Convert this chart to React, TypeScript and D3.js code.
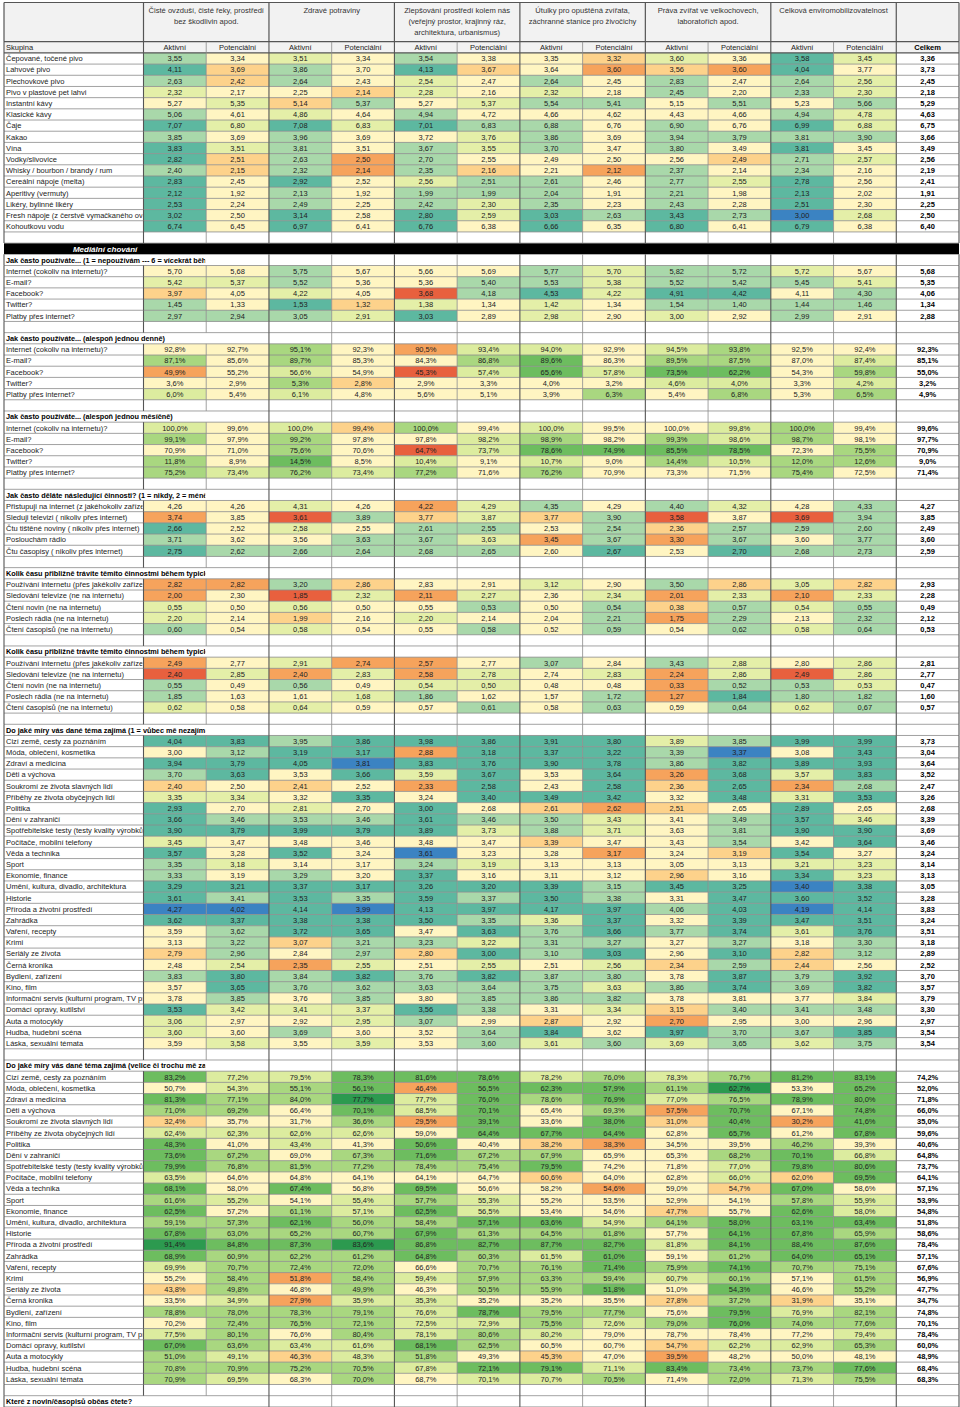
import React from "react";
import * as d3 from "d3";

// ---------- header texts ----------
const groupTitles: string[][] = [
  ["Čisté ovzduší, čisté řeky, prostředí", "bez škodlivin apod."],
  ["Zdravé potraviny"],
  ["Zlepšování prostředí kolem nás", "(veřejný prostor, krajinný ráz,", "architektura, urbanismus)"],
  ["Útulky pro opuštěná zvířata,", "záchranné stanice pro živočichy"],
  ["Práva zvířat ve velkochovech,", "laboratořích apod."],
  ["Celková enviromobilizovatelnost"],
];
const subColumns = ["Aktivní", "Potenciální"];
const groupLabel = "Skupina";
const totalLabel = "Celkem";
const bandTitle = "Mediální chování";

// ---------- drinks ----------
const drinkLabels = [
  "Čepované, točené pivo", "Lahvové pivo", "Plechovkové pivo", "Pivo v plastové pet lahvi",
  "Instantní kávy", "Klasické kávy", "Čaje", "Kakao", "Vína", "Vodky/slivovice",
  "Whisky / bourbon / brandy / rum", "Cereální nápoje (melta)", "Aperitivy (vermuty)",
  "Likéry, bylinné likéry", "Fresh nápoje (z čerstvě vymačkaného ovoce)", "Kohoutkovu vodu",
];
const drinkValues = [
  [3.55, 3.34, 3.51, 3.34, 3.54, 3.38, 3.35, 3.32, 3.60, 3.36, 3.58, 3.45],
  [4.11, 3.69, 3.86, 3.70, 4.13, 3.67, 3.64, 3.60, 3.56, 3.60, 4.04, 3.77],
  [2.63, 2.42, 2.64, 2.43, 2.54, 2.47, 2.64, 2.45, 2.83, 2.47, 2.64, 2.56],
  [2.32, 2.17, 2.25, 2.14, 2.28, 2.16, 2.32, 2.18, 2.45, 2.20, 2.33, 2.30],
  [5.27, 5.35, 5.14, 5.37, 5.27, 5.37, 5.54, 5.41, 5.15, 5.51, 5.23, 5.66],
  [5.06, 4.61, 4.86, 4.64, 4.94, 4.72, 4.66, 4.62, 4.43, 4.66, 4.94, 4.78],
  [7.07, 6.80, 7.08, 6.83, 7.01, 6.83, 6.88, 6.76, 6.90, 6.76, 6.99, 6.88],
  [3.85, 3.69, 3.96, 3.69, 3.72, 3.76, 3.86, 3.69, 3.94, 3.79, 3.81, 3.90],
  [3.83, 3.51, 3.81, 3.51, 3.67, 3.55, 3.70, 3.47, 3.80, 3.49, 3.81, 3.45],
  [2.82, 2.51, 2.63, 2.50, 2.70, 2.55, 2.49, 2.50, 2.56, 2.49, 2.71, 2.57],
  [2.40, 2.15, 2.32, 2.14, 2.35, 2.16, 2.21, 2.12, 2.37, 2.14, 2.34, 2.16],
  [2.83, 2.45, 2.92, 2.52, 2.56, 2.51, 2.61, 2.46, 2.77, 2.55, 2.78, 2.56],
  [2.12, 1.92, 2.13, 1.92, 1.99, 1.99, 2.04, 1.91, 2.21, 1.98, 2.13, 2.02],
  [2.53, 2.24, 2.49, 2.25, 2.42, 2.30, 2.35, 2.23, 2.43, 2.28, 2.51, 2.30],
  [3.02, 2.50, 3.14, 2.58, 2.80, 2.59, 3.03, 2.63, 3.43, 2.73, 3.00, 2.68],
  [6.74, 6.45, 6.97, 6.41, 6.76, 6.38, 6.66, 6.35, 6.80, 6.41, 6.79, 6.38],
];
const drinkTotals = [3.36, 3.73, 2.45, 2.18, 5.29, 4.63, 6.75, 3.66, 3.49, 2.56, 2.19, 2.41, 1.91, 2.25, 2.50, 6.40];
// significance level per cell: a (lowest) ... d (neutral) ... h (highest)
const drinkLevels = [
  "fdedfddcedge", "gcfdgcdbcbgd", "fcfdedfdfdfe", "eddcededfdfe", "decfdeffdfdf", "fdedfdddddfe",
  "gegegffdfdge", "fdfddefdffff", "gefdfefdfdgd", "gcfbfddddcfe", "fcfbfcdbfdfd", "gdgdeffdfegd",
  "gdfdfffdfdgd", "gdfdfefdfdgd", "gdgdgegfgfhe", "gdgdgdgdgdgd",
];

// ---------- media usage ----------
const mediaLabels = ["Internet (cokoliv na internetu)?", "E-mail?", "Facebook?", "Twitter?", "Platby přes internet?"];
const useTitle = "Jak často používáte... (1 = nepoužívám --- 6 = vícekrát během dne)";
const useValues = [
  [5.70, 5.68, 5.75, 5.67, 5.66, 5.69, 5.77, 5.70, 5.82, 5.72, 5.72, 5.67],
  [5.42, 5.37, 5.52, 5.36, 5.36, 5.40, 5.53, 5.38, 5.52, 5.42, 5.45, 5.41],
  [3.97, 4.05, 4.22, 4.05, 3.68, 4.18, 4.53, 4.22, 4.91, 4.42, 4.11, 4.30],
  [1.45, 1.33, 1.53, 1.32, 1.38, 1.34, 1.42, 1.34, 1.54, 1.40, 1.44, 1.46],
  [2.97, 2.94, 3.05, 2.91, 3.03, 2.89, 2.98, 2.90, 3.00, 2.92, 2.99, 2.91],
];
const useTotals = [5.68, 5.35, 4.06, 1.34, 2.88];
const useLevels = ["ddfdddfeffed", "eefddffefffe", "cdedafgeggdf", "fdgcededffff", "fffegdededfd"];

const dailyTitle = "Jak často používáte... (alespoň jednou denně)";
const dailyValues = [
  [92.8, 92.7, 95.1, 92.3, 90.5, 93.4, 94.0, 92.9, 94.5, 93.8, 92.5, 92.4],
  [87.1, 85.6, 89.7, 85.3, 84.3, 86.8, 89.6, 86.3, 89.5, 87.5, 87.0, 87.4],
  [49.9, 55.2, 56.6, 54.9, 45.3, 57.4, 65.6, 57.8, 73.5, 62.2, 54.3, 59.8],
  [3.6, 2.9, 5.3, 2.8, 2.9, 3.3, 4.0, 3.2, 4.6, 4.0, 3.3, 4.2],
  [6.0, 5.4, 6.1, 4.8, 5.6, 5.1, 3.9, 6.3, 5.4, 6.8, 5.3, 6.5],
];
const dailyTotals = [92.3, 85.1, 55.0, 3.2, 4.9];
const dailyLevels = ["ddfdbeedefdd", "fdfddfgdffde", "bdedaegeggdf", "ddfcddddeede", "ededdddfdfdf"];

const monthlyTitle = "Jak často používáte... (alespoň jednou měsíčně)";
const monthlyValues = [
  [100.0, 99.6, 100.0, 99.4, 100.0, 99.4, 100.0, 99.5, 100.0, 99.8, 100.0, 99.4],
  [99.1, 97.9, 99.2, 97.8, 97.8, 98.2, 98.9, 98.2, 99.3, 98.6, 98.7, 98.1],
  [70.9, 71.0, 75.6, 70.6, 64.7, 73.7, 78.6, 74.9, 85.5, 78.5, 72.3, 75.5],
  [11.8, 8.9, 14.5, 8.5, 10.4, 9.1, 10.7, 9.0, 14.4, 10.5, 12.0, 12.6],
  [75.2, 73.4, 76.2, 73.4, 77.2, 71.6, 76.2, 70.9, 73.3, 71.5, 75.4, 72.5],
];
const monthlyTotals = [99.6, 97.7, 70.9, 9.0, 71.4];
const monthlyLevels = ["edecfdeddefd", "fdfddefdfefd", "ddfdaeggggdf", "fdgdededfeff", "fefefdfdddfd"];

// ---------- activities ----------
const activityTitle = "Jak často děláte následující činnosti? (1 = nikdy, 2 = méně často než jednou týdně ... )";
const activityLabels = [
  "Přistupuji na internet (z jakéhokoliv zařízení)", "Sleduji televizi ( nikoliv přes internet)",
  "Čtu tištěné noviny ( nikoliv přes internet)", "Poslouchám rádio", "Čtu časopisy ( nikoliv přes internet)",
];
const activityValues = [
  [4.26, 4.26, 4.31, 4.26, 4.22, 4.29, 4.35, 4.29, 4.40, 4.32, 4.28, 4.33],
  [3.74, 3.85, 3.61, 3.89, 3.77, 3.87, 3.77, 3.90, 3.58, 3.87, 3.69, 3.94],
  [2.66, 2.52, 2.58, 2.55, 2.61, 2.55, 2.53, 2.54, 2.36, 2.57, 2.59, 2.60],
  [3.71, 3.62, 3.56, 3.63, 3.67, 3.63, 3.45, 3.67, 3.30, 3.67, 3.60, 3.77],
  [2.75, 2.62, 2.66, 2.64, 2.68, 2.65, 2.60, 2.67, 2.53, 2.70, 2.68, 2.73],
];
const activityTotals = [4.27, 3.85, 2.49, 3.60, 2.59];
const activityLevels = ["ddedbefdfedf", "bdafcecfadaf", "gdedffdfcfff", "fddffebfbfdf", "gfffffdgdgff"];

const timeLabels = [
  "Používání internetu (přes jakékoliv zařízení)", "Sledování televize (ne na internetu)",
  "Čtení novin (ne na internetu)", "Poslech rádia (ne na internetu)", "Čtení časopisů (ne na internetu)",
];
const workdayTitle = "Kolik času přibližně trávíte těmito činnostmi během typického pracovního dne?";
const workdayValues = [
  [2.82, 2.82, 3.20, 2.86, 2.83, 2.91, 3.12, 2.90, 3.50, 2.86, 3.05, 2.82],
  [2.00, 2.30, 1.85, 2.32, 2.11, 2.27, 2.36, 2.34, 2.01, 2.33, 2.10, 2.33],
  [0.55, 0.50, 0.56, 0.50, 0.55, 0.53, 0.50, 0.54, 0.38, 0.57, 0.54, 0.55],
  [2.20, 2.14, 1.99, 2.16, 2.20, 2.14, 2.04, 2.21, 1.75, 2.29, 2.13, 2.32],
  [0.60, 0.54, 0.58, 0.54, 0.55, 0.58, 0.52, 0.59, 0.54, 0.62, 0.58, 0.64],
];
const workdayTotals = [2.93, 2.28, 0.49, 2.12, 0.53];
const workdayLevels = ["bbfcddedfcec", "bdaebedebebe", "ededdfdfcfef", "edcdeddfbfdf", "fdeddfdfdfef"];

const weekendTitle = "Kolik času přibližně trávíte těmito činnostmi během typického víkendového dne?";
const weekendValues = [
  [2.49, 2.77, 2.91, 2.74, 2.57, 2.77, 3.07, 2.84, 3.43, 2.88, 2.80, 2.86],
  [2.40, 2.85, 2.40, 2.83, 2.58, 2.78, 2.74, 2.83, 2.24, 2.86, 2.49, 2.86],
  [0.55, 0.49, 0.56, 0.49, 0.54, 0.50, 0.48, 0.48, 0.33, 0.52, 0.53, 0.53],
  [1.85, 1.63, 1.61, 1.68, 1.86, 1.62, 1.57, 1.72, 1.27, 1.84, 1.80, 1.82],
  [0.62, 0.58, 0.64, 0.59, 0.57, 0.61, 0.58, 0.63, 0.59, 0.64, 0.62, 0.67],
];
const weekendTotals = [2.81, 2.77, 0.47, 1.60, 0.57];
const weekendLevels = ["bdebbdfdfede", "aebebedebeae", "fdfdeeddbffe", "fddefddfbgff", "ededdfdfdfef"];

// ---------- topics ----------
const topicLabels = [
  "Cizí země, cesty za poznáním", "Móda, oblečení, kosmetika", "Zdraví a medicína", "Děti a výchova",
  "Soukromí ze života slavných lidí", "Příběhy ze života obyčejných lidí", "Politika", "Dění v zahraničí",
  "Spotřebitelské testy (testy kvality výrobků)", "Počítače, mobilní telefony", "Věda a technika", "Sport",
  "Ekonomie, finance", "Umění, kultura, divadlo, architektura", "Historie", "Příroda a životní prostředí",
  "Zahrádka", "Vaření, recepty", "Krimi", "Seriály ze života", "Černá kronika", "Bydlení, zařízení",
  "Kino, film", "Informační servis (kulturní program, TV program)", "Domácí opravy, kutilství",
  "Auta a motocykly", "Hudba, hudební scéna", "Láska, sexuální témata",
];
const topicMeanTitle = "Do jaké míry vás dané téma zajímá (1 = vůbec mě nezajímá --- 5 = velice mě zajímá)";
const topicMeanValues = [
  [4.04, 3.83, 3.95, 3.86, 3.98, 3.86, 3.91, 3.80, 3.89, 3.85, 3.99, 3.99],
  [3.00, 3.12, 3.19, 3.17, 2.88, 3.18, 3.37, 3.22, 3.39, 3.37, 3.08, 3.43],
  [3.94, 3.79, 4.05, 3.81, 3.83, 3.76, 3.90, 3.78, 3.86, 3.82, 3.89, 3.93],
  [3.70, 3.63, 3.53, 3.66, 3.59, 3.67, 3.53, 3.64, 3.26, 3.68, 3.57, 3.83],
  [2.40, 2.50, 2.41, 2.52, 2.33, 2.58, 2.43, 2.58, 2.36, 2.65, 2.34, 2.68],
  [3.35, 3.34, 3.32, 3.35, 3.24, 3.40, 3.49, 3.42, 3.32, 3.48, 3.31, 3.53],
  [2.93, 2.70, 2.81, 2.70, 3.00, 2.68, 2.61, 2.62, 2.51, 2.65, 2.89, 2.65],
  [3.66, 3.46, 3.53, 3.46, 3.61, 3.46, 3.50, 3.43, 3.41, 3.49, 3.57, 3.46],
  [3.90, 3.79, 3.99, 3.79, 3.89, 3.73, 3.88, 3.71, 3.63, 3.81, 3.90, 3.90],
  [3.45, 3.47, 3.48, 3.46, 3.48, 3.47, 3.39, 3.47, 3.43, 3.54, 3.42, 3.64],
  [3.57, 3.28, 3.52, 3.24, 3.61, 3.23, 3.28, 3.17, 3.24, 3.19, 3.54, 3.27],
  [3.35, 3.18, 3.14, 3.17, 3.24, 3.19, 3.13, 3.13, 3.05, 3.13, 3.21, 3.23],
  [3.33, 3.19, 3.29, 3.20, 3.37, 3.16, 3.11, 3.12, 2.96, 3.16, 3.34, 3.23],
  [3.29, 3.21, 3.37, 3.17, 3.26, 3.20, 3.39, 3.15, 3.45, 3.25, 3.40, 3.38],
  [3.61, 3.41, 3.53, 3.35, 3.59, 3.37, 3.50, 3.38, 3.31, 3.47, 3.60, 3.52],
  [4.27, 4.02, 4.14, 3.99, 4.13, 3.97, 4.17, 3.97, 4.06, 4.03, 4.19, 4.14],
  [3.62, 3.37, 3.38, 3.38, 3.50, 3.35, 3.36, 3.37, 3.32, 3.39, 3.47, 3.51],
  [3.59, 3.62, 3.72, 3.65, 3.47, 3.63, 3.76, 3.66, 3.77, 3.74, 3.61, 3.76],
  [3.13, 3.22, 3.07, 3.21, 3.23, 3.22, 3.31, 3.27, 3.27, 3.27, 3.18, 3.30],
  [2.79, 2.96, 2.84, 2.97, 2.80, 3.00, 3.10, 3.03, 2.96, 3.10, 2.82, 3.12],
  [2.48, 2.54, 2.35, 2.55, 2.51, 2.55, 2.51, 2.56, 2.34, 2.59, 2.44, 2.56],
  [3.83, 3.80, 3.84, 3.82, 3.76, 3.82, 3.87, 3.80, 3.78, 3.87, 3.79, 3.92],
  [3.57, 3.65, 3.76, 3.62, 3.63, 3.64, 3.75, 3.63, 3.86, 3.74, 3.69, 3.82],
  [3.78, 3.85, 3.76, 3.85, 3.80, 3.85, 3.86, 3.82, 3.78, 3.81, 3.77, 3.84],
  [3.53, 3.42, 3.41, 3.37, 3.56, 3.38, 3.31, 3.34, 3.15, 3.40, 3.41, 3.48],
  [3.06, 2.97, 2.92, 2.95, 3.07, 2.99, 2.87, 2.92, 2.70, 2.95, 3.00, 2.96],
  [3.60, 3.60, 3.69, 3.60, 3.52, 3.64, 3.84, 3.62, 3.97, 3.70, 3.67, 3.85],
  [3.59, 3.58, 3.55, 3.59, 3.53, 3.60, 3.61, 3.60, 3.69, 3.65, 3.62, 3.75],
];
const topicMeanTotals = [
  3.73, 3.04, 3.64, 3.52, 2.47, 3.26, 2.68, 3.39, 3.69, 3.46, 3.24, 3.14, 3.13, 3.05,
  3.28, 3.83, 3.24, 3.51, 3.18, 2.89, 2.52, 3.70, 3.57, 3.79, 3.30, 2.97, 3.54, 3.54,
];
const topicMeanLevels = [
  "ggfgggggefgg", "dfggbgggfhdg", "ghgggggggfggg".slice(0, 0) + "ggghggggfggg", "fgdgegdgbgeg",
  "cdcdbgdgcgbf", "eedgdgggdgeg", "gdedgdcbcdgd", "gfffgffedfge", "gggggefedfgg", "edddddcddfdg",
  "gdgdhddbdcgd", "feddfeddddee", "fdfdgdddcdge", "gggggggfgghg", "gfgfgfgfdggg", "hhghggggfghg",
  "gggggfegdggg", "dfggdgfgfgeg", "dfcffeffdfdf", "cfdfcgfgdgcf", "debededecfcd", "fgfgfgffdgfg",
  "dgfffffefgfg", "dfdfdfffddde", "geeegfdecfff", "eddefdcdbddd", "edfddfgdgffg", "dededfefefef",
];

const topicPctTitle = "Do jaké míry vás dané téma zajímá (velice či trochu mě zajímá)";
const topicPctValues = [
  [83.2, 77.2, 79.5, 78.3, 81.6, 78.6, 78.2, 76.0, 78.3, 76.7, 81.2, 83.1],
  [50.7, 54.3, 55.1, 56.1, 46.4, 56.5, 62.3, 57.9, 61.1, 62.7, 53.3, 65.2],
  [81.3, 77.1, 84.0, 77.7, 77.7, 76.0, 78.6, 76.9, 77.0, 76.5, 78.9, 80.0],
  [71.0, 69.2, 66.4, 70.1, 68.5, 70.1, 65.4, 69.3, 57.5, 70.7, 67.1, 74.8],
  [32.4, 35.7, 31.7, 36.6, 29.5, 39.1, 33.6, 38.0, 31.0, 40.4, 30.2, 41.6],
  [62.4, 62.3, 62.6, 62.6, 59.0, 64.4, 67.7, 64.4, 62.8, 65.7, 61.2, 67.8],
  [48.3, 41.0, 43.4, 41.3, 50.6, 40.4, 38.2, 38.3, 34.5, 39.5, 46.2, 39.3],
  [73.6, 67.2, 69.0, 67.3, 71.6, 67.2, 67.9, 65.9, 65.3, 68.2, 70.1, 66.8],
  [79.9, 76.8, 81.5, 77.2, 78.4, 75.4, 79.5, 74.2, 71.8, 77.0, 79.8, 80.6],
  [63.5, 64.6, 64.8, 64.1, 64.1, 64.7, 60.6, 64.0, 62.8, 66.0, 62.0, 69.5],
  [68.1, 58.0, 67.4, 56.8, 69.5, 56.6, 58.2, 54.6, 59.0, 54.7, 67.0, 58.6],
  [61.6, 55.2, 54.1, 55.4, 57.7, 55.3, 55.2, 53.5, 52.9, 54.1, 57.8, 55.9],
  [62.5, 57.2, 61.1, 57.1, 62.5, 56.5, 53.4, 54.6, 47.7, 55.7, 62.6, 58.0],
  [59.1, 57.3, 62.1, 56.0, 58.4, 57.1, 63.6, 54.9, 64.1, 58.0, 63.1, 63.4],
  [67.8, 63.0, 65.2, 60.7, 67.9, 61.3, 64.5, 61.8, 57.7, 64.1, 67.8, 65.9],
  [91.4, 84.8, 87.3, 83.6, 86.8, 82.7, 87.7, 82.7, 81.8, 84.1, 88.4, 87.6],
  [68.9, 60.9, 62.2, 61.2, 64.8, 60.3, 61.5, 61.0, 59.1, 61.2, 64.0, 65.1],
  [69.9, 70.7, 72.4, 72.0, 66.6, 70.7, 76.1, 71.4, 75.9, 74.1, 70.7, 75.1],
  [55.2, 58.4, 51.8, 58.4, 59.4, 57.9, 63.3, 59.4, 60.7, 60.1, 57.1, 61.5],
  [43.8, 49.8, 46.8, 49.9, 46.3, 50.5, 55.9, 51.8, 51.0, 54.3, 46.6, 55.2],
  [33.5, 34.9, 27.9, 35.9, 35.3, 35.2, 35.2, 35.5, 27.8, 37.2, 31.9, 35.1],
  [78.8, 78.0, 78.3, 79.1, 76.6, 78.7, 79.5, 77.7, 75.6, 79.5, 76.9, 82.1],
  [70.2, 72.4, 76.5, 72.1, 72.5, 72.9, 75.5, 72.6, 79.0, 76.0, 74.0, 77.6],
  [77.5, 80.1, 76.6, 80.4, 78.1, 80.6, 80.2, 79.0, 78.7, 78.4, 77.2, 79.4],
  [67.0, 63.6, 63.4, 61.6, 68.1, 62.5, 60.5, 60.7, 54.7, 62.2, 62.9, 65.3],
  [51.0, 49.1, 46.3, 48.3, 51.8, 49.3, 45.3, 47.0, 39.5, 48.2, 50.0, 48.1],
  [70.8, 70.9, 75.2, 70.5, 67.8, 72.1, 79.1, 71.1, 83.4, 73.4, 73.7, 77.6],
  [70.9, 69.5, 68.3, 70.0, 68.7, 70.1, 70.7, 70.5, 71.4, 72.0, 71.3, 75.5],
];
const topicPctTotals = [
  74.2, 52.0, 71.8, 66.0, 35.0, 59.6, 40.6, 64.8, 73.7, 64.1, 57.1, 53.9, 54.8, 51.8,
  58.6, 78.4, 57.1, 67.6, 56.9, 47.7, 34.7, 74.8, 70.1, 78.4, 60.0, 48.9, 68.4, 68.3,
];
const topicPctLevels = [
  "geegggefefgg", "defgbgggfhdg", "gffhegfgefgg", "ffdgegdfbgdg", "cddfbgdgcgbg", "eeeedgggdgdg",
  "gdedgdcbddfd", "gfdfgffddfge", "gfffffgddegg", "edddddcddecg", "gdgdgddbdcgd", "fedefeddddfe",
  "gdfegeddcdge", "ffgffggefggg", "gfffgfffdggf", "hgghggggeggg", "gfffgfegdfgg", "efffdffgfgff",
  "dfbfefffefdf", "cfdfdffgdgdf", "debeedddcfcd", "ffffegffdgef", "dfffeefefgff", "efdfefedddde",
  "gfeegfddceef", "fecefdcdbddd", "ffffeggegffg", "fedfdeefdfef",
];

const readTitle = "Které z novin/časopisů občas čtete?";

// ---------- colour scales ----------
const levelCodes = ["a", "b", "c", "d", "e", "f", "g", "h"];
const meanColors = d3.scaleOrdinal<string, string>(levelCodes,
  ["#e8603e", "#f6a35c", "#fdd28b", "#fff5c2", "#e4efa8", "#a9d8aa", "#5db8a0", "#3b83c2"]);
const pctColors = d3.scaleOrdinal<string, string>(levelCodes,
  ["#e8603e", "#f6a35c", "#fdd28b", "#fff5c2", "#dcec9f", "#a9d780", "#6dbd5f", "#2c9a4f"]);

const locale = d3.formatLocale({ decimal: ",", thousands: "\u00a0", grouping: [3], currency: ["", " Kč"] });
const fmtMean = locale.format(".2f");
const fmtPct1 = locale.format(".1f");
const fmtPct = (v: number) => fmtPct1(v) + "%";

// ---------- build row list ----------
type Row =
  | { type: "head" }
  | { type: "data"; label: string; values: number[]; total: number; levels: string; pct: boolean }
  | { type: "empty" }
  | { type: "band"; text: string }
  | { type: "section"; text: string };

function dataRows(labels: string[], values: number[][], totals: number[], levels: string[], pct: boolean): Row[] {
  return labels.map((label, i) => ({ type: "data", label, values: values[i], total: totals[i], levels: levels[i], pct }));
}

const rows: Row[] = [
  { type: "head" },
  ...dataRows(drinkLabels, drinkValues, drinkTotals, drinkLevels, false),
  { type: "empty" },
  { type: "band", text: bandTitle },
  { type: "section", text: useTitle },
  ...dataRows(mediaLabels, useValues, useTotals, useLevels, false),
  { type: "empty" },
  { type: "section", text: dailyTitle },
  ...dataRows(mediaLabels, dailyValues, dailyTotals, dailyLevels, true),
  { type: "empty" },
  { type: "section", text: monthlyTitle },
  ...dataRows(mediaLabels, monthlyValues, monthlyTotals, monthlyLevels, true),
  { type: "empty" },
  { type: "section", text: activityTitle },
  ...dataRows(activityLabels, activityValues, activityTotals, activityLevels, false),
  { type: "empty" },
  { type: "section", text: workdayTitle },
  ...dataRows(timeLabels, workdayValues, workdayTotals, workdayLevels, false),
  { type: "empty" },
  { type: "section", text: weekendTitle },
  ...dataRows(timeLabels, weekendValues, weekendTotals, weekendLevels, false),
  { type: "empty" },
  { type: "section", text: topicMeanTitle },
  ...dataRows(topicLabels, topicMeanValues, topicMeanTotals, topicMeanLevels, false),
  { type: "empty" },
  { type: "section", text: topicPctTitle },
  ...dataRows(topicLabels, topicPctValues, topicPctTotals, topicPctLevels, true),
  { type: "empty" },
  { type: "section", text: readTitle },
];

// ---------- layout ----------
const W = 960;
const H = 1407;
const X0 = 4;
const XL = 143.5;
const XR = 959;
const TOP = 2.5;
const HEAD_BOTTOM = 41.7;
const ROW_H = 11.19;
const FONT = "'Liberation Sans', Arial, sans-serif";
const FS = 7.5;

const x = d3.scaleLinear().domain([0, 13]).range([XL, XR]);
const y = d3.scaleLinear().domain([0, rows.length]).range([HEAD_BOTTOM, HEAD_BOTTOM + rows.length * ROW_H]);

const GRID = "#8a8a8a";
const DARK = "#555";
const HEADER_BG = "#f2f2f2";
const isGroupEdge = (i: number) => i % 2 === 0 || i === 13;

export default function App() {
  const cells: React.ReactNode[] = [];
  const texts: React.ReactNode[] = [];
  const lines: React.ReactNode[] = [];

  // header group cells
  cells.push(<rect key="h-lab" x={X0} y={TOP} width={XL - X0} height={HEAD_BOTTOM - TOP} fill={HEADER_BG} />);
  groupTitles.forEach((lns, g) => {
    const x1 = x(g * 2), x2 = x(g * 2 + 2);
    cells.push(<rect key={`hg${g}`} x={x1} y={TOP} width={x2 - x1} height={HEAD_BOTTOM - TOP} fill={HEADER_BG} />);
    lns.forEach((t, li) => {
      texts.push(
        <text key={`hgt${g}-${li}`} x={(x1 + x2) / 2} y={TOP + 10.2 + li * 11} textAnchor="middle" fontSize={7.6} fill="#333">{t}</text>
      );
    });
  });
  cells.push(<rect key="h-tot" x={x(12)} y={TOP} width={x(13) - x(12)} height={HEAD_BOTTOM - TOP} fill={HEADER_BG} />);
  // header outline lines
  lines.push(<line key="ht" x1={X0} x2={XR} y1={TOP} y2={TOP} stroke={DARK} strokeWidth={1.2} />);
  lines.push(<line key="hb" x1={X0} x2={XR} y1={HEAD_BOTTOM} y2={HEAD_BOTTOM} stroke={DARK} strokeWidth={1.2} />);
  [X0, ...d3.range(0, 14).filter(isGroupEdge).map((i) => x(i))].forEach((xx, i) => {
    lines.push(<line key={`hv${i}`} x1={xx} x2={xx} y1={TOP} y2={HEAD_BOTTOM} stroke={DARK} strokeWidth={1.2} />);
  });

  rows.forEach((row, r) => {
    const top = y(r);
    const h = ROW_H;
    const base = top + 8.4;
    if (row.type === "band") {
      cells.push(<rect key={`b${r}`} x={X0} y={top} width={XR - X0} height={h} fill="#000" />);
      texts.push(
        <text key={`bt${r}`} x={(X0 + x(1)) / 2} y={base} textAnchor="middle" fontSize={8} fontWeight="bold" fontStyle="italic" fill="#fff">{row.text}</text>
      );
      return;
    }
    // horizontal line at bottom of row
    lines.push(<line key={`hl${r}`} x1={X0} x2={XR} y1={top + h} y2={top + h} stroke={row.type === "head" ? DARK : GRID} strokeWidth={row.type === "head" ? 1.1 : 0.8} />);
    // verticals
    const vx: { xx: number; dark: boolean }[] = [{ xx: X0, dark: true }];
    d3.range(0, 14).forEach((i) => {
      if (row.type === "section" && i <= 1) return;
      vx.push({ xx: x(i), dark: isGroupEdge(i) });
    });
    vx.forEach((v, i) => {
      lines.push(<line key={`v${r}-${i}`} x1={v.xx} x2={v.xx} y1={top} y2={top + h} stroke={v.dark ? DARK : GRID} strokeWidth={v.dark ? 1.1 : 0.8} />);
    });

    if (row.type === "head") {
      cells.push(<rect key={`hr${r}`} x={X0} y={top} width={XR - X0} height={h} fill={HEADER_BG} />);
      texts.push(<text key="sk" x={X0 + 2} y={base} fontSize={FS} fill="#222">{groupLabel}</text>);
      d3.range(12).forEach((c) => {
        texts.push(
          <text key={`sc${c}`} x={(x(c) + x(c + 1)) / 2} y={base} textAnchor="middle" fontSize={FS} fill="#222">{subColumns[c % 2]}</text>
        );
      });
      texts.push(
        <text key="cel" x={(x(12) + x(13)) / 2} y={base} textAnchor="middle" fontSize={FS} fontWeight="bold" fill="#000">{totalLabel}</text>
      );
    } else if (row.type === "section") {
      texts.push(
        <text key={`st${r}`} x={X0 + 2} y={base} fontSize={7.3} fontWeight="bold" fill="#000" clipPath="url(#secClip)">{row.text}</text>
      );
    } else if (row.type === "data") {
      texts.push(
        <text key={`l${r}`} x={X0 + 2} y={base} fontSize={FS} fill="#222" clipPath="url(#labClip)">{row.label}</text>
      );
      const scale = row.pct ? pctColors : meanColors;
      const fmt = row.pct ? fmtPct : fmtMean;
      row.values.forEach((v, c) => {
        cells.push(
          <rect key={`c${r}-${c}`} x={x(c)} y={top} width={x(c + 1) - x(c)} height={h} fill={scale(row.levels[c])} />
        );
        texts.push(
          <text key={`t${r}-${c}`} x={(x(c) + x(c + 1)) / 2} y={base} textAnchor="middle" fontSize={FS} fill="#222">{fmt(v)}</text>
        );
      });
      texts.push(
        <text key={`tt${r}`} x={(x(12) + x(13)) / 2} y={base} textAnchor="middle" fontSize={FS} fontWeight="bold" fill="#000">{fmt(row.total)}</text>
      );
    }
  });

  return (
    <svg width={W} height={H} style={{ position: "absolute", left: 0, top: 0, background: "#fff" }} fontFamily={FONT}>
      <defs>
        <clipPath id="labClip">
          <rect x={X0} y={0} width={XL - X0 - 1} height={H} />
        </clipPath>
        <clipPath id="secClip">
          <rect x={X0} y={0} width={x(1) - X0 - 1} height={H} />
        </clipPath>
      </defs>
      <rect x={0} y={0} width={W} height={H} fill="#fff" />
      {cells}
      {lines}
      {texts}
    </svg>
  );
}
